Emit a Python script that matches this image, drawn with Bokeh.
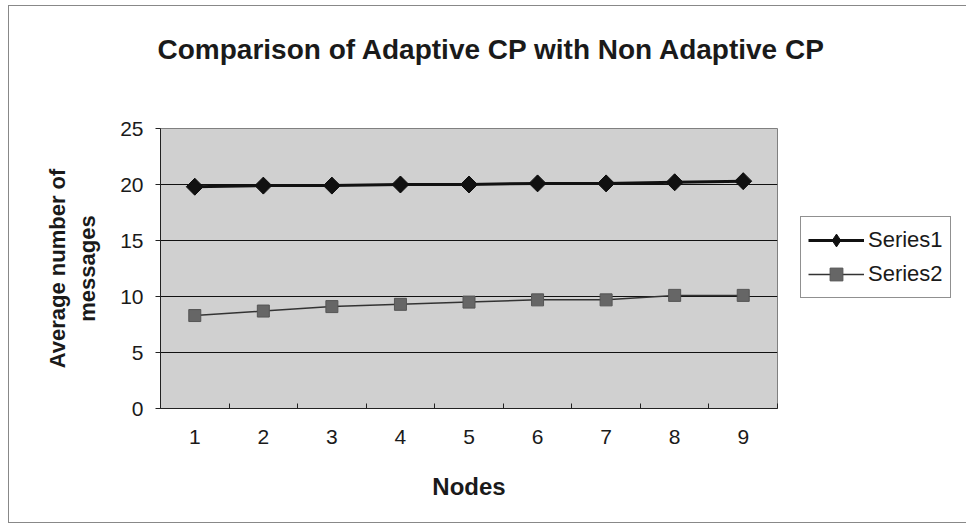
from bokeh.plotting import figure
from bokeh.models import Range1d, FixedTicker, Legend, LegendItem, Title
from bokeh.embed import file_html
from bokeh.resources import INLINE

nodes = [1, 2, 3, 4, 5, 6, 7, 8, 9]
series1 = [19.8, 19.9, 19.9, 20.0, 20.0, 20.1, 20.1, 20.2, 20.3]
series2 = [8.3, 8.7, 9.1, 9.3, 9.5, 9.7, 9.7, 10.1, 10.1]
y_ticks = [0, 5, 10, 15, 20, 25]
x_tick_labels = {n: str(n) for n in nodes}

FONT = "Liberation Sans"

p = figure(frame_width=617, frame_height=280, output_backend="svg", toolbar_location=None,
           x_range=Range1d(0.5, 9.5), y_range=Range1d(0, 25),
           min_border_left=151, min_border_right=185, min_border_top=122, min_border_bottom=114)
p.title = None
# spacer title nearest the frame, then the real title above it
p.add_layout(Title(text=" ", text_font=FONT, text_font_size="10px", standoff=46), "above")
p.add_layout(Title(text="Comparison of Adaptive CP with Non Adaptive CP", align="left",
                   text_font=FONT, text_font_size="28px", text_font_style="bold",
                   text_color="#1a1a1a", standoff=10, offset=-3), "above")

p.background_fill_color = "#d0d0d0"
p.border_fill_color = "white"
p.outline_line_color = "#808080"
p.styles = {"border": "1px solid #888888", "margin-left": "8px", "margin-top": "5px"}

p.xgrid.visible = False
p.ygrid.grid_line_color = "#111111"
p.ygrid.grid_line_width = 1

# axes
p.xaxis.ticker = FixedTicker(ticks=nodes, minor_ticks=[n - 0.5 for n in nodes] + [9.5])
p.xaxis.major_label_overrides = x_tick_labels
p.xaxis.major_tick_in = 0
p.xaxis.major_tick_out = 0
p.xaxis.minor_tick_in = 5
p.xaxis.minor_tick_out = 0
p.xaxis.minor_tick_line_color = "#222222"
p.xaxis.axis_label = "Nodes"
p.xaxis.axis_label_standoff = 26
p.xaxis.major_label_standoff = 21

p.yaxis.ticker = FixedTicker(ticks=y_ticks)
p.yaxis.major_tick_in = 0
p.yaxis.major_tick_out = 5
p.yaxis.minor_tick_line_color = None
p.yaxis.axis_label = "Average number of\nmessages"
p.yaxis.axis_label_standoff = 17
p.yaxis.major_label_standoff = 12

for ax in (p.xaxis[0], p.yaxis[0]):
    ax.axis_line_color = "#222222"
    ax.major_tick_line_color = "#222222"
    ax.major_label_text_font = FONT
    ax.major_label_text_font_size = "21px"
    ax.major_label_text_color = "#1a1a1a"
    ax.axis_label_text_font = FONT
    ax.axis_label_text_font_style = "bold"
    ax.axis_label_text_color = "#1a1a1a"
p.xaxis.axis_label_text_font_size = "24px"
p.yaxis.axis_label_text_font_size = "22px"

l1 = p.line(nodes, series1, line_color="#111111", line_width=3)
m1 = p.scatter(nodes, series1, marker="square", angle=0.785398, size=12,
               fill_color="#111111", line_color="#111111")
k1 = p.scatter(nodes, series1, marker="diamond", size=16, fill_color="#111111", line_color="#111111")
l2 = p.line(nodes, series2, line_color="#333333", line_width=1.5)
m2 = p.scatter(nodes, series2, marker="square", size=12, fill_color="#666666", line_color="#555555")

legend = Legend(items=[LegendItem(label="Series1", renderers=[l1, k1]),
                       LegendItem(label="Series2", renderers=[l2, m2])],
                location=(23, 110), orientation="vertical",
                label_text_font=FONT, label_text_font_size="22px", label_text_color="#1a1a1a",
                glyph_width=56, glyph_height=32, label_standoff=4, spacing=2,
                padding=7, margin=0,
                border_line_color="#222222", border_line_width=1,
                background_fill_color="white", background_fill_alpha=1)
p.add_layout(legend, "right")

open("out.html", "w").write(file_html(p, INLINE))
